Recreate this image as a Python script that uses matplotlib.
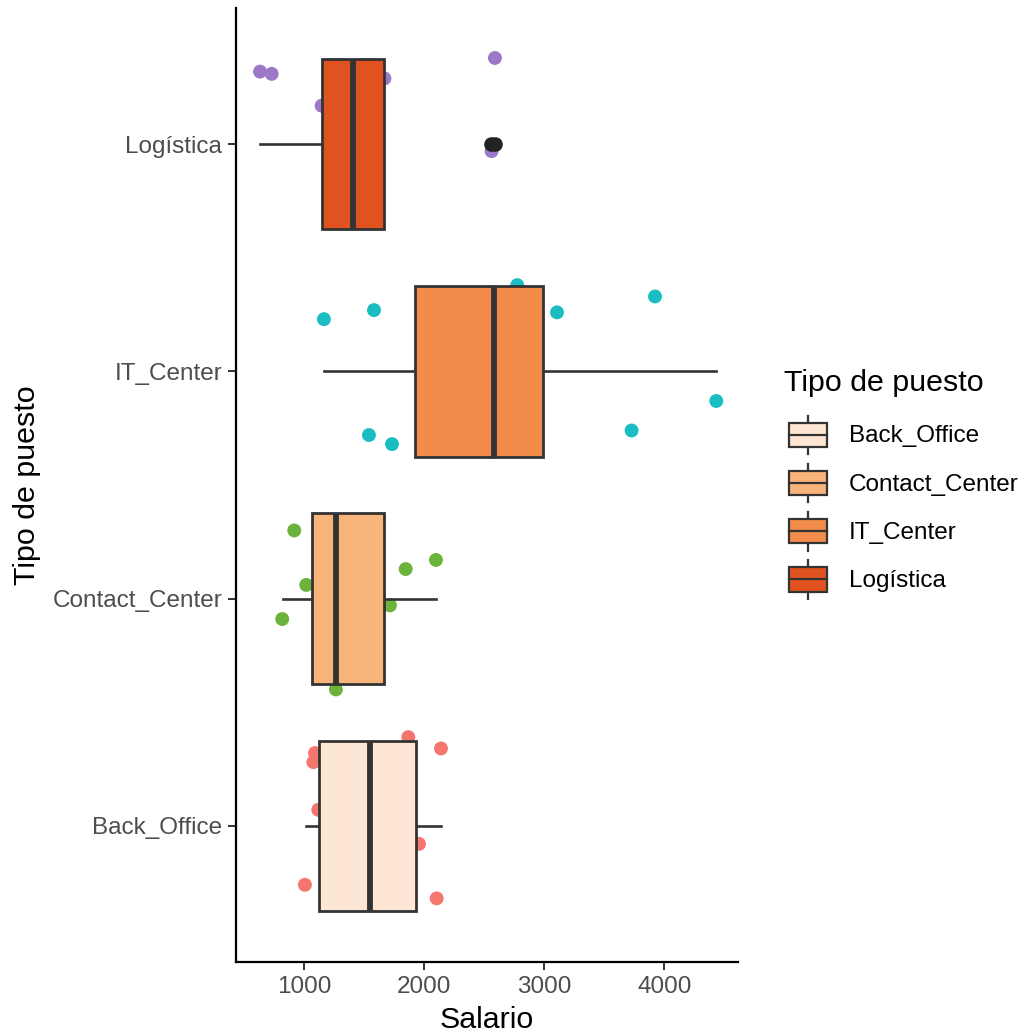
import matplotlib
matplotlib.use('Agg')
import matplotlib.pyplot as plt
from matplotlib.patches import Patch, Rectangle
from matplotlib.lines import Line2D
from matplotlib.legend_handler import HandlerBase

plt.rcParams['font.family'] = ['Liberation Sans', 'DejaVu Sans']

CATEGORIES = ['Back_Office', 'Contact_Center', 'IT_Center', 'Logística']
FILLS = ['#FDE7D4', '#F9B47C', '#F38C4A', '#E05320']
POINT_COLORS = ['#F4766E', '#6CB33C', '#1ABEC2', '#9D77C8']

# box statistics
WHISK_LO = [1017, 828, 1169, 634]
Q1 = [1128, 1069, 1924, 1150]
MEDIAN = [1550, 1264, 2585, 1410]
Q3 = [1930, 1666, 2993, 1666]
WHISK_HI = [2141, 2097, 4431, 1666]
OUTLIERS = [[], [], [], [2560, 2590]]

# jittered raw points (salary, vertical jitter in category units)
bo_sal = [1869, 2141, 1092, 1078, 1119, 1958, 1008, 2105]
bo_jit = [0.39, 0.34, 0.32, 0.28, 0.07, -0.08, -0.26, -0.32]
cc_sal = [919, 1019, 819, 1266, 1716, 1847, 2099]
cc_jit = [0.30, 0.06, -0.09, -0.40, -0.03, 0.13, 0.17]
it_sal = [1166, 1583, 2776, 3107, 3923, 4433, 3728, 1541, 1733]
it_jit = [0.23, 0.27, 0.38, 0.26, 0.33, -0.13, -0.26, -0.28, -0.32]
lo_sal = [634, 731, 1147, 1670, 2590, 2562]
lo_jit = [0.32, 0.31, 0.17, 0.29, 0.38, -0.03]

POINTS = [(bo_sal, bo_jit), (cc_sal, cc_jit), (it_sal, it_jit), (lo_sal, lo_jit)]

EDGE = '#333333'
TICK_GRAY = '#4D4D4D'


class BoxKey(HandlerBase):
    """ggplot-like boxplot legend key."""
    def create_artists(self, legend, orig_handle, xdescent, ydescent,
                       width, height, fontsize, trans):
        x0, y0 = -xdescent, -ydescent
        cx = x0 + width / 2
        lw = 1.6
        arts = [
            Line2D([cx, cx], [y0 + 0.1 * height, y0 + 0.25 * height], color=EDGE, lw=lw),
            Line2D([cx, cx], [y0 + 0.75 * height, y0 + 0.9 * height], color=EDGE, lw=lw),
            Rectangle((x0 + 0.1 * width, y0 + 0.25 * height), 0.8 * width, 0.5 * height,
                      facecolor=orig_handle.get_facecolor(), edgecolor=EDGE, lw=lw),
            Line2D([x0 + 0.1 * width, x0 + 0.9 * width], [y0 + 0.5 * height] * 2,
                   color=EDGE, lw=lw),
        ]
        for a in arts:
            a.set_transform(trans)
        return arts


fig = plt.figure(figsize=(10.27, 10.34), dpi=100)
ax = fig.add_axes([236 / 1027, 1 - 962 / 1034, 502 / 1027, 954 / 1034])

positions = list(range(1, len(CATEGORIES) + 1))

for pos, (sal, jit), col in zip(positions, POINTS, POINT_COLORS):
    ax.scatter(sal, [pos + j for j in jit], s=100, color=col, edgecolors='none', zorder=1)

stats = []
for i, cat in enumerate(CATEGORIES):
    stats.append(dict(label=cat, whislo=WHISK_LO[i], q1=Q1[i], med=MEDIAN[i],
                      q3=Q3[i], whishi=WHISK_HI[i], fliers=OUTLIERS[i]))

bp = ax.bxp(stats, positions=positions, vert=False, widths=0.75, patch_artist=True,
            showcaps=False, manage_ticks=False,
            boxprops=dict(edgecolor=EDGE, linewidth=2.0),
            whiskerprops=dict(color=EDGE, linewidth=1.9),
            medianprops=dict(color=EDGE, linewidth=4.2),
            flierprops=dict(marker='o', markerfacecolor='#222222', markeredgecolor='none',
                            markersize=10.5))
for box, fill in zip(bp['boxes'], FILLS):
    box.set_facecolor(fill)
    box.set_zorder(2)
for key in ['whiskers', 'medians', 'fliers']:
    for art in bp[key]:
        art.set_zorder(3 if key != 'whiskers' else 1.5)

ax.set_xlim(434, 4614)
ax.set_ylim(0.4, 4.6)
ax.set_yticks(positions)
ax.set_yticklabels(CATEGORIES)
ax.set_xticks([1000, 2000, 3000, 4000])

for s in ['top', 'right']:
    ax.spines[s].set_visible(False)
for s in ['left', 'bottom']:
    ax.spines[s].set_linewidth(1.6)
    ax.spines[s].set_color('black')
ax.tick_params(axis='both', length=5.5, width=1.4, color=EDGE,
               labelcolor=TICK_GRAY, labelsize=17.5, pad=4.5)

ax.set_xlabel('Salario', fontsize=21.9, color='black', labelpad=6)
ax.set_ylabel('Tipo de puesto', fontsize=21.9, color='black', labelpad=8)

# legend title placed on its own, ggplot leaves a wider gap than matplotlib
fig.text(784 / 1027, 1 - 383 / 1034, 'Tipo de puesto', fontsize=21.9,
         ha='left', va='center')
handles = [Patch(facecolor=f, edgecolor=EDGE) for f in FILLS]
leg = fig.legend(handles, CATEGORIES, handler_map={Patch: BoxKey()},
                 loc='upper left', bbox_to_anchor=(784 / 1027, 1 - 411 / 1034),
                 frameon=False, fontsize=17.5,
                 handlelength=1.98, handleheight=2.67, labelspacing=0.0,
                 handletextpad=0.7, borderpad=0, borderaxespad=0)

fig.savefig('out.png', dpi=100, facecolor='white')
